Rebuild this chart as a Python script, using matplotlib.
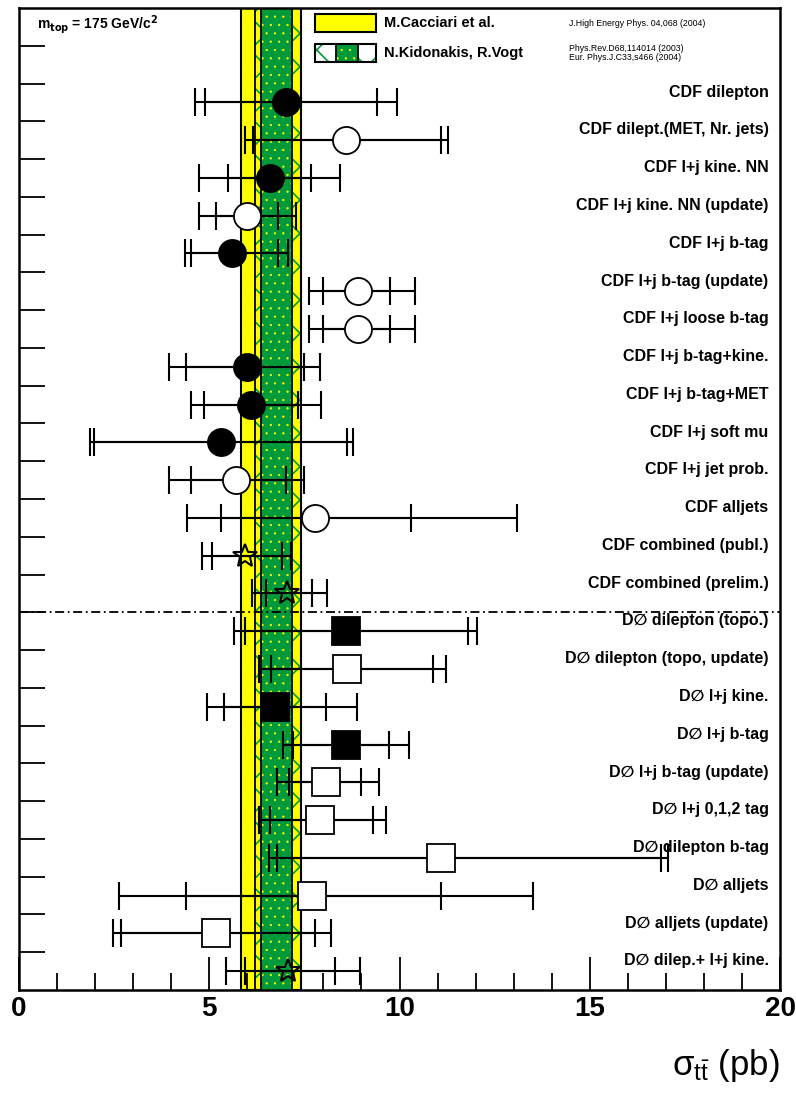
import matplotlib
matplotlib.use('Agg')
import matplotlib.pyplot as plt
from matplotlib.patches import Rectangle
from matplotlib.ticker import MultipleLocator, FixedLocator

plt.rcParams['font.family'] = ['Liberation Sans', 'DejaVu Sans']
plt.rcParams['mathtext.default'] = 'regular'

# measurements, top to bottom
labels = ['CDF dilepton', 'CDF dilept.(MET, Nr. jets)', 'CDF l+j kine. NN',
          'CDF l+j kine. NN (update)', 'CDF l+j b-tag', 'CDF l+j b-tag (update)',
          'CDF l+j loose b-tag', 'CDF l+j b-tag+kine.', 'CDF l+j b-tag+MET',
          'CDF l+j soft mu', 'CDF l+j jet prob.', 'CDF alljets',
          'CDF combined (publ.)', 'CDF combined (prelim.)',
          'D∅ dilepton (topo.)', 'D∅ dilepton (topo, update)', 'D∅ l+j kine.',
          'D∅ l+j b-tag', 'D∅ l+j b-tag (update)', 'D∅ l+j 0,1,2 tag',
          'D∅ dilepton b-tag', 'D∅ alljets', 'D∅ alljets (update)',
          'D∅ dilep.+ l+j kine.']
xsec = [7.02, 8.60, 6.59, 6.00, 5.59, 8.90, 8.90, 5.98, 6.11, 5.30, 5.69, 7.77,
        5.95, 7.05, 8.60, 8.63, 6.72, 8.60, 8.08, 7.90, 11.09, 7.69, 5.19, 7.08]
stat_lo = [4.89, 6.15, 5.50, 5.19, 4.51, 7.99, 7.99, 4.40, 4.87, 1.96, 4.51, 5.30,
           5.08, 6.50, 5.94, 6.61, 5.39, 7.20, 7.10, 6.59, 6.77, 4.40, 2.68, 5.94]
stat_hi = [9.41, 11.09, 7.68, 6.80, 6.80, 9.76, 9.76, 7.49, 7.33, 8.63, 7.02, 10.29,
           6.90, 7.69, 11.81, 10.87, 8.08, 9.73, 8.99, 9.30, 16.87, 11.09, 7.77, 8.30]
tot_lo = [4.62, 5.94, 4.73, 4.73, 4.36, 7.63, 7.63, 3.95, 4.53, 1.87, 3.95, 4.42,
          4.80, 6.12, 5.64, 6.31, 4.93, 6.94, 6.77, 6.30, 6.58, 2.63, 2.48, 5.43]
tot_hi = [9.93, 11.28, 8.43, 7.27, 7.08, 10.40, 10.40, 7.91, 7.94, 8.79, 7.49, 13.08,
          7.15, 8.09, 12.03, 11.23, 8.88, 10.24, 9.46, 9.65, 17.06, 13.50, 8.19, 8.96]
symbols = ['fo', 'oo', 'fo', 'oo', 'fo', 'oo', 'oo', 'fo', 'fo', 'fo', 'oo', 'oo',
           'st', 'st', 'fs', 'os', 'fs', 'fs', 'os', 'os', 'os', 'os', 'os', 'st']

# theory bands
cacciari = (5.83, 7.40)
kido_outer = (6.20, 7.40)
kido_inner = (6.35, 7.17)

yellow = '#ffff00'
green = '#009a3a'

fig = plt.figure(figsize=(7.96, 10.94), dpi=100)
ax = fig.add_axes([19 / 796, 1 - 990 / 1094, 761 / 796, 982 / 1094])
n = len(labels)
ax.set_xlim(0, 20)
ax.set_ylim(0, n + 2)

ax.axvspan(*cacciari, facecolor=yellow, edgecolor='black', lw=1.5, zorder=1)
plt.rcParams['hatch.linewidth'] = 1.2
ax.axvspan(*kido_outer, facecolor='none', edgecolor=green, hatch='x', lw=0, zorder=2)
leg_zig = Rectangle((7.78, 24.57), 1.61, 0.48, facecolor='white',
                    edgecolor=green, hatch='x', lw=0, zorder=6)
plt.rcParams['hatch.linewidth'] = 0.4
ax.axvspan(*kido_inner, facecolor=green, edgecolor=yellow, hatch='..', lw=0, zorder=2)
leg_dot = Rectangle((8.34, 24.57), 0.58, 0.48, facecolor=green,
                    edgecolor=yellow, hatch='..', lw=0, zorder=7)
for xv in list(kido_outer) + list(kido_inner):
    ax.axvline(xv, color='black', lw=1.3, zorder=3)

ax.axhline(10, color='black', lw=1.3, ls=(0, (5, 2, 1, 2)), zorder=3)

for i in range(n):
    y = n - 1 - i + 0.5
    v = xsec[i]
    ax.errorbar(v, y, xerr=[[v - tot_lo[i]], [tot_hi[i] - v]], fmt='none',
                ecolor='black', elinewidth=1.5, capsize=10, capthick=1.5, zorder=4)
    ax.errorbar(v, y, xerr=[[v - stat_lo[i]], [stat_hi[i] - v]], fmt='none',
                ecolor='black', elinewidth=1.5, capsize=10, capthick=1.5, zorder=4)
    s = symbols[i]
    if s == 'st':
        ax.plot(v, y, marker='*', ms=18, mfc='none', mec='black', mew=1.5, zorder=5)
    else:
        mk = 'o' if s[1] == 'o' else 's'
        fc = 'black' if s[0] == 'f' else 'white'
        ax.plot(v, y, marker=mk, ms=19.5, mfc=fc, mec='black', mew=1.3, zorder=5)
    ax.text(19.7, y + 0.27, labels[i], ha='right', va='center',
            fontsize=11.5, fontweight='bold', zorder=6)

# legend
ax.add_patch(Rectangle((7.78, 25.36), 1.61, 0.48, facecolor=yellow,
                       edgecolor='black', lw=1.5, zorder=6))
ax.add_patch(leg_zig)
ax.add_patch(leg_dot)
ax.add_patch(Rectangle((7.78, 24.57), 1.61, 0.48, facecolor='none',
                       edgecolor='black', lw=1.5, zorder=8))
ax.plot([8.34, 8.34], [24.57, 25.05], color='black', lw=1.3, zorder=8)
ax.plot([8.92, 8.92], [24.57, 25.05], color='black', lw=1.3, zorder=8)
ax.text(9.6, 25.6, 'M.Cacciari et al.', fontsize=10.5, fontweight='bold', va='center')
ax.text(9.6, 24.81, 'N.Kidonakis, R.Vogt', fontsize=10.5, fontweight='bold', va='center')
ax.text(14.45, 25.6, 'J.High Energy Phys. 04,068 (2004)', fontsize=6.3, va='center')
ax.text(14.45, 24.93, 'Phys.Rev.D68,114014 (2003)', fontsize=6.3, va='center')
ax.text(14.45, 24.69, 'Eur. Phys.J.C33,s466 (2004)', fontsize=6.3, va='center')
ax.text(0.47, 25.57, r'm$_{\mathbf{top}}$ = 175 GeV/c$^{\mathbf{2}}$', fontsize=10,
        fontweight='bold', va='center')

# axes styling
ax.xaxis.set_major_locator(MultipleLocator(5))
ax.xaxis.set_minor_locator(MultipleLocator(1))
ax.yaxis.set_major_locator(FixedLocator(range(1, n + 2)))
ax.tick_params(axis='x', which='major', direction='in', length=24, width=1.3,
               labelsize=20, pad=4, top=False)
ax.tick_params(axis='x', which='minor', direction='in', length=12, width=1.3, top=False)
ax.tick_params(axis='y', which='both', direction='in', length=19, width=1.3,
               labelleft=False, right=False)
for lab in ax.get_xticklabels():
    lab.set_fontweight('bold')
for sp in ax.spines.values():
    sp.set_linewidth(1.8)

fig.text(780 / 796, 1 - 1065 / 1094, r'$\sigma_{t\bar{t}}$ (pb)', fontsize=25,
         ha='right', va='center')

fig.savefig('out.png', dpi=100)
